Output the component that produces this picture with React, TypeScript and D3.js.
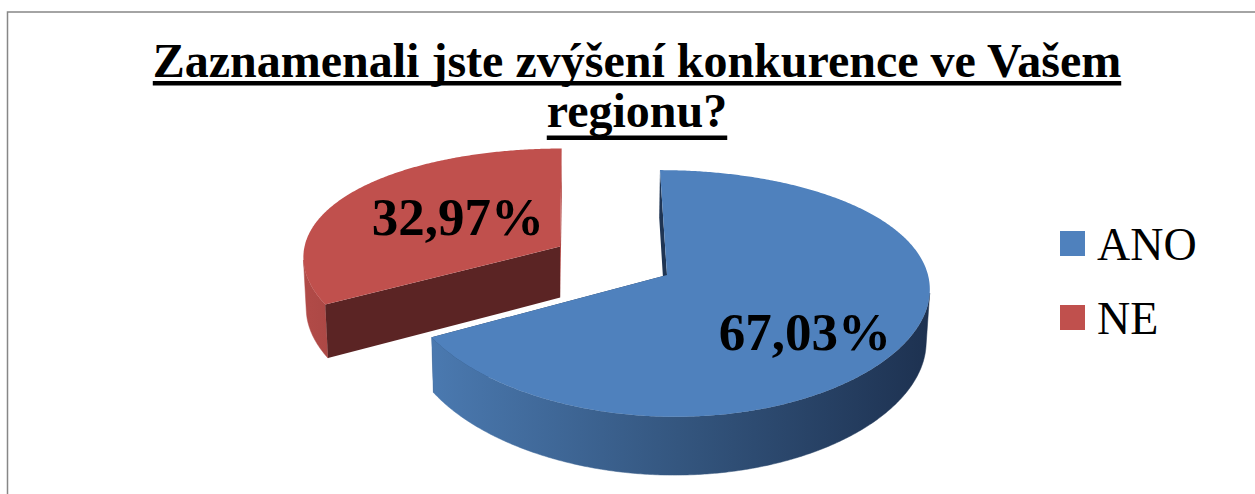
import React, { useLayoutEffect, useRef, useState } from "react";
import * as d3 from "d3";

// ---- data ----
const categories = ["ANO", "NE"];
const values = [67.03, 32.97];
const valueLabels = ["67,03%", "32,97%"];
const explode = [0, 0.4786];
const titleLines = ["Zaznamenali jste zvýšení konkurence ve Vašem", "regionu?"];

// ---- styles ----
const topColors = ["#4F81BD", "#C0504D"];
const startFaceColors = ["#1f3554", "#5b2424"];
const endFaceColors = ["#1f3554", "#b24a47"];
const sideStops = [
  ["#4b7ab1", "#34567f", "#1d3150"],
  ["#b04a47", "#a54441", "#8a3634"],
];

const W = 1255;
const H = 494;
const cam = { cx: 667, cy: 275, f: 1546, D: 5.93, fX: 2610, DX: 10, camX: -0.33, sinA: 0.4625, cosA: 0.887, h: 0.23 };

function proj(x: number, z: number, t: number): [number, number] {
  const Y = z * cam.sinA - t * cam.h * cam.cosA;
  const dep = z * cam.cosA + t * cam.h * cam.sinA;
  const sx = cam.cx + (cam.fX * (x - cam.camX)) / (cam.DX + dep) + (cam.fX * cam.camX) / cam.DX;
  return [sx, cam.cy - (Y * cam.f) / (cam.D + dep)];
}
function area(pts: [number, number][]) {
  let s = 0;
  for (let i = 0; i < pts.length; i++) {
    const a = pts[i];
    const b = pts[(i + 1) % pts.length];
    s += a[0] * b[1] - b[0] * a[1];
  }
  return s;
}

const line = d3.line<[number, number]>();

export default function App() {
  const t1 = useRef<SVGTextElement>(null);
  const t2 = useRef<SVGTextElement>(null);
  const [ul, setUl] = useState<[number, number][]>([[152, 968], [548, 179]]);
  useLayoutEffect(() => {
    const out: [number, number][] = [];
    [t1, t2].forEach((r) => {
      if (r.current) {
        const b = r.current.getBBox();
        out.push([b.x, b.width]);
      }
    });
    if (out.length === 2) setUl(out);
  }, []);

  const arcs = d3
    .pie<number>()
    .sort(null)
    .startAngle(0)
    .endAngle(2 * Math.PI)(values);

  const slices = arcs.map((a, i) => {
    const mid = (a.startAngle + a.endAngle) / 2;
    const ox = Math.sin(mid) * explode[i];
    const oz = Math.cos(mid) * explode[i];
    const n = Math.ceil((a.endAngle - a.startAngle) / (Math.PI / 360));
    const angs = d3.range(n + 1).map((k) => a.startAngle + ((a.endAngle - a.startAngle) * k) / n);
    const rim = (th: number, t: number) => proj(ox + Math.sin(th), oz + Math.cos(th), t);
    const topPts: [number, number][] = [proj(ox, oz, 0), ...angs.map((th) => rim(th, 0))];
    const topPath = line(topPts) + "Z";

    // outer side: visible runs (screen-space winding)
    const sidePaths: string[] = [];
    let run: number[] = [];
    const flush = () => {
      if (run.length > 1) {
        const pts = [...run.map((th) => rim(th, 0)), ...run.slice().reverse().map((th) => rim(th, 1))];
        sidePaths.push(line(pts as [number, number][]) + "Z");
      }
      run = [];
    };
    for (let k = 0; k < angs.length - 1; k++) {
      const q: [number, number][] = [rim(angs[k], 0), rim(angs[k + 1], 0), rim(angs[k + 1], 1), rim(angs[k], 1)];
      const vis = area(q) < 0;
      if (vis) {
        if (run.length === 0) run.push(angs[k]);
        run.push(angs[k + 1]);
      } else flush();
    }
    flush();

    const radial = (th: number, isStart: boolean) => {
      const pts: [number, number][] = [proj(ox, oz, 0), rim(th, 0), rim(th, 1), proj(ox, oz, 1)];
      const ar = area(pts);
      return { vis: isStart ? ar < 0 : ar > 0, d: line(pts) + "Z" };
    };
    const sFace = radial(a.startAngle, true);
    const eFace = radial(a.endAngle, false);

    return { i, topPath, sidePaths, sFace, eFace, ox, oz, mid };
  });

  const order = [1, 0];

  const labelR = [0.55, 0.5];
  const labelDy = [40, 16];
  const labelDx = [9, 5];

  return (
    <svg width={W} height={H} style={{ position: "absolute", left: 0, top: 0 }} fontFamily="'Liberation Serif', 'Times New Roman', serif">
      <defs>
        {sideStops.map((s, i) => (
          <linearGradient key={i} id={`side${i}`} gradientUnits="userSpaceOnUse" x1={i === 0 ? 425 : 310} x2={i === 0 ? 932 : 420} y1={0} y2={0}>
            <stop offset="0" stopColor={s[0]} />
            <stop offset="0.5" stopColor={s[1]} />
            <stop offset="1" stopColor={s[2]} />
          </linearGradient>
        ))}
      </defs>
      <rect x={0} y={0} width={W} height={H} fill="#fff" />
      <rect x={7.5} y={12} width={1300} height={600} fill="#fff" stroke="#878787" strokeWidth={1.5} />

      {titleLines.map((t, k) => (
        <text
          key={k}
          ref={k === 0 ? t1 : t2}
          x={637}
          y={k === 0 ? 76.5 : 127}
          textAnchor="middle"
          fontSize={48}
          fontWeight="bold"
          fill="#000"
        >
          {t}
        </text>
      ))}
      {ul.map((u, k) => (
        <rect key={k} x={u[0]} y={k === 0 ? 81 : 135.5} width={u[1]} height={4.5} fill="#000" />
      ))}

      {order.map((idx) => {
        const s = slices[idx];
        return (
          <g key={idx}>
            {!s.sFace.vis && <path d={s.sFace.d} fill={startFaceColors[idx]} />}
            {!s.eFace.vis && <path d={s.eFace.d} fill={endFaceColors[idx]} />}
            {s.sidePaths.map((d, k) => (
              <path key={k} d={d} fill={`url(#side${idx})`} stroke={`url(#side${idx})`} strokeWidth={0.5} />
            ))}
            {s.sFace.vis && <path d={s.sFace.d} fill={startFaceColors[idx]} />}
            {s.eFace.vis && <path d={s.eFace.d} fill={endFaceColors[idx]} />}
            <path d={s.topPath} fill={topColors[idx]} />
          </g>
        );
      })}

      {slices.map((s, idx) => {
        const r = labelR[idx];
        const [lx, ly] = proj(s.ox + Math.sin(s.mid) * r, s.oz + Math.cos(s.mid) * r, 0);
        return (
          <text key={idx} x={lx + labelDx[idx]} y={ly + labelDy[idx]} textAnchor="middle" fontSize={53} fontWeight="bold" fill="#000">
            {valueLabels[idx]}
          </text>
        );
      })}

      {categories.map((c, i) => (
        <g key={c}>
          <rect x={1060} y={231 + i * 74} width={25} height={25} fill={topColors[i]} />
          <text x={1097} y={260 + i * 74} fontSize={46} fill="#000">
            {c}
          </text>
        </g>
      ))}
    </svg>
  );
}
